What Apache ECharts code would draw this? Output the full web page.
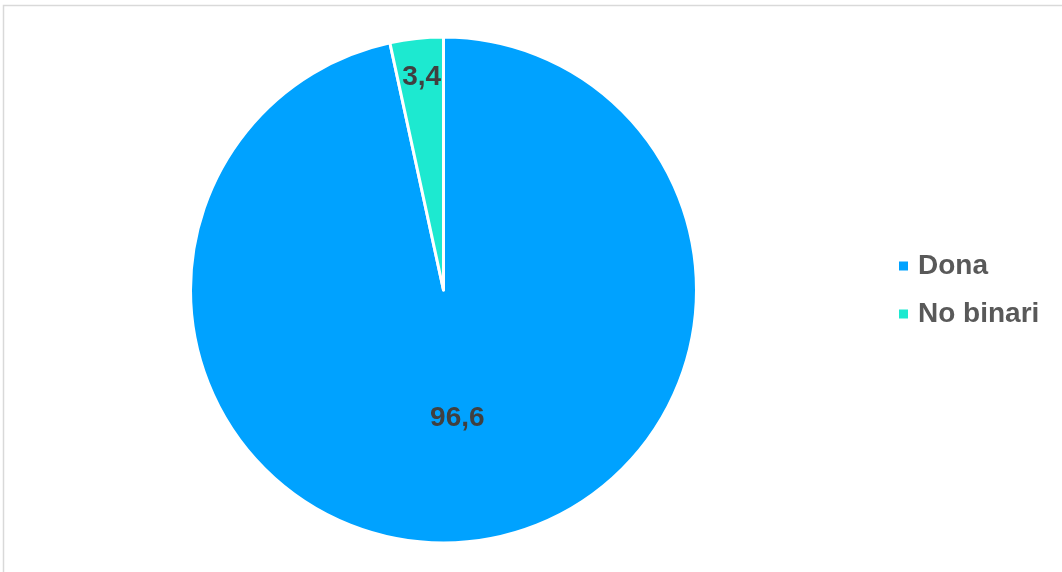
<!DOCTYPE html>
<html><head><meta charset="utf-8">
<script src="https://cdn.jsdelivr.net/npm/echarts@6/dist/echarts.min.js"></script>
<style>html,body{margin:0;padding:0;background:#fff}#c{width:1062px;height:572px}</style>
</head><body><div id="c"></div>
<script>
const categories = ['Dona', 'No binari'];
const values = [96.6, 3.4];
const colors = ['#00a2ff', '#1de9d0'];

const chart = echarts.init(document.getElementById('c'), null, {renderer: 'canvas'});
const fmt = v => String(v).replace('.', ',');
chart.setOption({
  animation: false,
  backgroundColor: '#fff',
  graphic: [{
    type: 'rect', silent: true,
    shape: {x: 3.5, y: 5.5, width: 1200, height: 700},
    style: {fill: 'none', stroke: '#d9d9d9', lineWidth: 1.5}
  }],
  legend: {
    orient: 'vertical', left: 892, top: 247, padding: 5,
    icon: 'rect', itemWidth: 11, itemHeight: 11, itemGap: 20,
    textStyle: {fontFamily: 'Liberation Sans, Arial, sans-serif', fontWeight: 'bold', fontSize: 28, color: '#595959', padding: [0, 0, 0, 4]},
    data: categories
  },
  series: [{
    type: 'pie',
    center: [443.5, 290],
    radius: 253,
    startAngle: 90,
    clockwise: true,
    itemStyle: {borderColor: '#fff', borderWidth: 3},
    label: {
      show: true, position: 'inside',
      formatter: p => fmt(p.value),
      fontFamily: 'Liberation Sans, Arial, sans-serif', fontWeight: 'bold', fontSize: 28, color: '#404040'
    },
    labelLayout: p => p.dataIndex === 1 ? {dx: -8, dy: -84} : {},
    emphasis: {disabled: true},
    data: categories.map((n, i) => ({name: n, value: values[i], itemStyle: {color: colors[i]}}))
  }]
});
</script></body></html>
